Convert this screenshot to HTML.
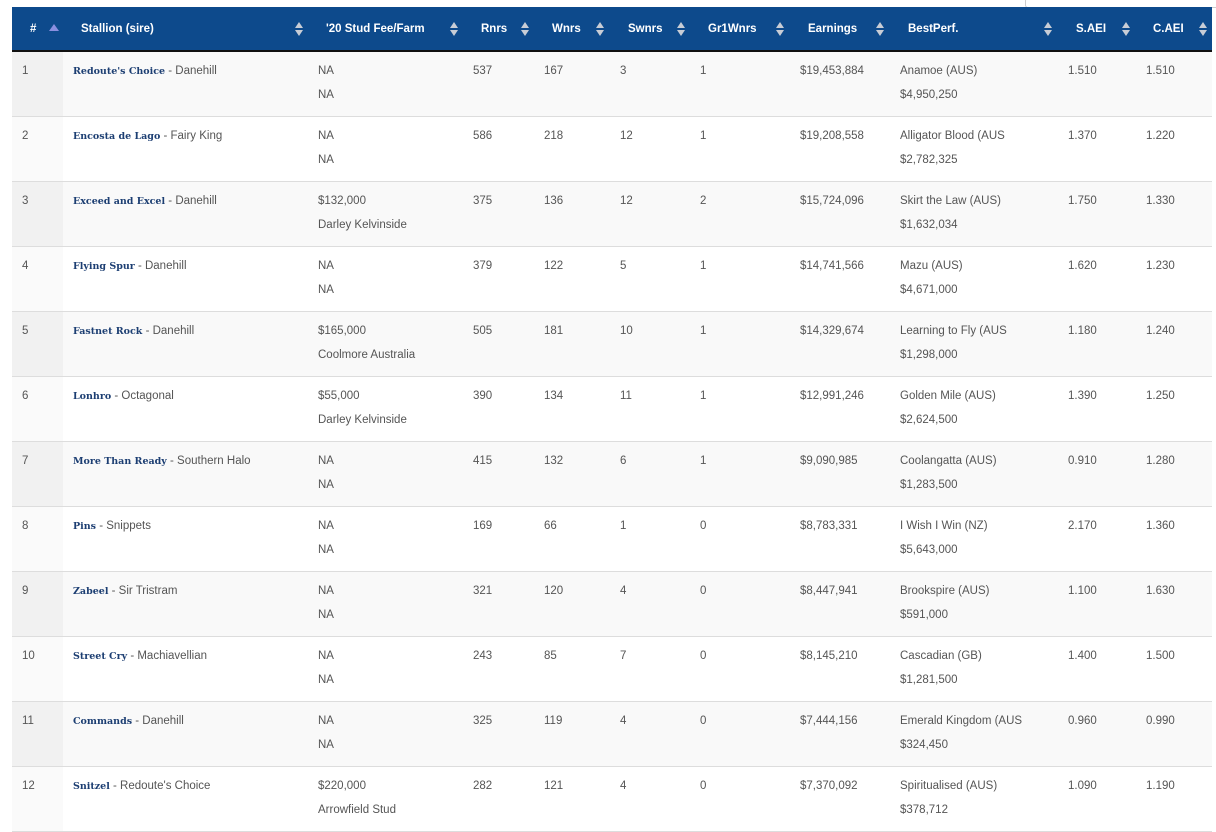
<!DOCTYPE html>
<html><head><meta charset="utf-8"><style>
body{margin:0;background:#fff;width:1216px;height:825px;overflow:hidden;font-family:"Liberation Sans",sans-serif;}
.box{position:absolute;left:1025px;top:-2px;width:200px;height:8px;border:1px solid #ccc;border-radius:3px;}
table{position:absolute;left:12px;top:7px;border-collapse:collapse;table-layout:fixed;width:1200px;}
th{background:#0d4a8c;color:#fff;font-size:11.5px;font-weight:bold;text-align:left;height:43px;padding:0 0 0 8px;border-bottom:2px solid #111;position:relative;white-space:nowrap;}
th .s{position:absolute;top:15px;width:8px;height:14px;}
th .s:before{content:"";position:absolute;left:0;top:0;border-left:4px solid transparent;border-right:4px solid transparent;border-bottom:6px solid #c8cdd6;}
th .s:after{content:"";position:absolute;left:0;top:8px;border-left:4px solid transparent;border-right:4px solid transparent;border-top:6px solid #c8cdd6;}
th .up{position:absolute;left:37px;top:17px;border-left:5px solid transparent;border-right:5px solid transparent;border-bottom:7px solid #8a8fe0;}
td{vertical-align:top;font-size:11.5px;color:#555;padding:7px 0 0 10px;height:57px;line-height:24px;border-bottom:1px solid #ddd;white-space:nowrap;overflow:hidden;}
tr.o td{background:#f9f9f9}
tr.o td:first-child{background:#f1f1f1}
tr.e td:first-child{background:#fafafa}
b{font-family:"DejaVu Serif",serif;font-size:9.5px;color:#1c3e72;}
</style></head><body>
<div class="box"></div>
<table>
<colgroup><col style="width:51px"><col style="width:245px"><col style="width:155px"><col style="width:71px"><col style="width:76px"><col style="width:80px"><col style="width:100px"><col style="width:100px"><col style="width:168px"><col style="width:78px"><col style="width:76px"></colgroup>
<tr><th style="padding-left:18px">#<span class="up"></span></th><th style="padding-left:18px">Stallion (sire)<span class="s" style="left:232px"></span></th><th style="padding-left:18px">'20 Stud Fee/Farm<span class="s" style="left:142px"></span></th><th style="padding-left:18px">Rnrs<span class="s" style="left:58px"></span></th><th style="padding-left:18px">Wnrs<span class="s" style="left:62px"></span></th><th style="padding-left:18px">Swnrs<span class="s" style="left:67px"></span></th><th style="padding-left:18px">Gr1Wnrs<span class="s" style="left:86px"></span></th><th style="padding-left:18px">Earnings<span class="s" style="left:86px"></span></th><th style="padding-left:18px">BestPerf.<span class="s" style="left:154px"></span></th><th style="padding-left:18px">S.AEI<span class="s" style="left:64px"></span></th><th style="padding-left:17px">C.AEI<span class="s" style="left:63px"></span></th></tr>
<tr class="o"><td>1</td><td><b>Redoute's Choice</b> - Danehill</td><td>NA<br>NA</td><td>537</td><td>167</td><td>3</td><td>1</td><td>$19,453,884</td><td>Anamoe (AUS)<br>$4,950,250</td><td>1.510</td><td>1.510</td></tr>
<tr class="e"><td>2</td><td><b>Encosta de Lago</b> - Fairy King</td><td>NA<br>NA</td><td>586</td><td>218</td><td>12</td><td>1</td><td>$19,208,558</td><td>Alligator Blood (AUS<br>$2,782,325</td><td>1.370</td><td>1.220</td></tr>
<tr class="o"><td>3</td><td><b>Exceed and Excel</b> - Danehill</td><td>$132,000<br>Darley Kelvinside</td><td>375</td><td>136</td><td>12</td><td>2</td><td>$15,724,096</td><td>Skirt the Law (AUS)<br>$1,632,034</td><td>1.750</td><td>1.330</td></tr>
<tr class="e"><td>4</td><td><b>Flying Spur</b> - Danehill</td><td>NA<br>NA</td><td>379</td><td>122</td><td>5</td><td>1</td><td>$14,741,566</td><td>Mazu (AUS)<br>$4,671,000</td><td>1.620</td><td>1.230</td></tr>
<tr class="o"><td>5</td><td><b>Fastnet Rock</b> - Danehill</td><td>$165,000<br>Coolmore Australia</td><td>505</td><td>181</td><td>10</td><td>1</td><td>$14,329,674</td><td>Learning to Fly (AUS<br>$1,298,000</td><td>1.180</td><td>1.240</td></tr>
<tr class="e"><td>6</td><td><b>Lonhro</b> - Octagonal</td><td>$55,000<br>Darley Kelvinside</td><td>390</td><td>134</td><td>11</td><td>1</td><td>$12,991,246</td><td>Golden Mile (AUS)<br>$2,624,500</td><td>1.390</td><td>1.250</td></tr>
<tr class="o"><td>7</td><td><b>More Than Ready</b> - Southern Halo</td><td>NA<br>NA</td><td>415</td><td>132</td><td>6</td><td>1</td><td>$9,090,985</td><td>Coolangatta (AUS)<br>$1,283,500</td><td>0.910</td><td>1.280</td></tr>
<tr class="e"><td>8</td><td><b>Pins</b> - Snippets</td><td>NA<br>NA</td><td>169</td><td>66</td><td>1</td><td>0</td><td>$8,783,331</td><td>I Wish I Win (NZ)<br>$5,643,000</td><td>2.170</td><td>1.360</td></tr>
<tr class="o"><td>9</td><td><b>Zabeel</b> - Sir Tristram</td><td>NA<br>NA</td><td>321</td><td>120</td><td>4</td><td>0</td><td>$8,447,941</td><td>Brookspire (AUS)<br>$591,000</td><td>1.100</td><td>1.630</td></tr>
<tr class="e"><td>10</td><td><b>Street Cry</b> - Machiavellian</td><td>NA<br>NA</td><td>243</td><td>85</td><td>7</td><td>0</td><td>$8,145,210</td><td>Cascadian (GB)<br>$1,281,500</td><td>1.400</td><td>1.500</td></tr>
<tr class="o"><td>11</td><td><b>Commands</b> - Danehill</td><td>NA<br>NA</td><td>325</td><td>119</td><td>4</td><td>0</td><td>$7,444,156</td><td>Emerald Kingdom (AUS<br>$324,450</td><td>0.960</td><td>0.990</td></tr>
<tr class="e"><td>12</td><td><b>Snitzel</b> - Redoute's Choice</td><td>$220,000<br>Arrowfield Stud</td><td>282</td><td>121</td><td>4</td><td>0</td><td>$7,370,092</td><td>Spiritualised (AUS)<br>$378,712</td><td>1.090</td><td>1.190</td></tr>
</table>
</body></html>
